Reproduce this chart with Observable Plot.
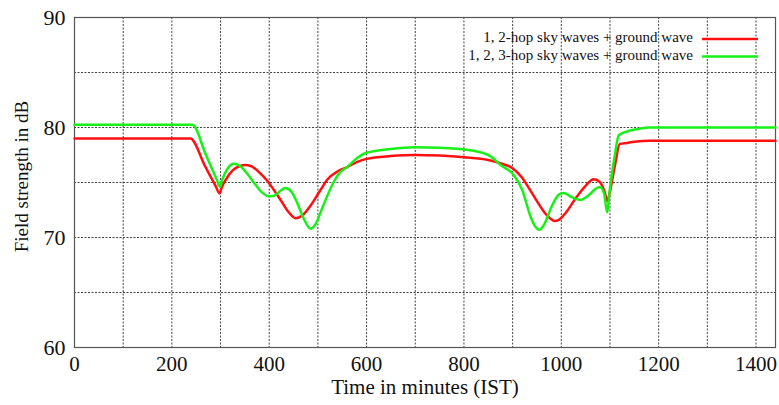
<!DOCTYPE html>
<html>
<head>
<meta charset="utf-8">
<script src="https://cdn.jsdelivr.net/npm/d3@7"></script>
<script src="https://cdn.jsdelivr.net/npm/@observablehq/plot@0.6"></script>
<style>
  html, body { margin: 0; padding: 0; background: #fff; }
  #wrap { position: relative; width: 779px; height: 405px; }
  #legend { position: absolute; left: 0; top: 0; pointer-events: none; }
</style>
</head>
<body>
<div id="wrap"></div>
<script>
// ---- data ----
const seriesNames = ["1, 2-hop sky waves + ground wave", "1, 2, 3-hop sky waves + ground wave"];
const seriesColors = ["#ff1010", "#18f018"];

const redTime  = [0, 238, 268, 290, 298, 302, 310, 325, 340, 352, 365, 380, 395, 410, 425, 440, 454, 468, 485, 505, 520, 540, 560, 580, 600, 650, 700, 750, 800, 850, 878, 900, 920, 936, 950, 965, 978, 986, 995, 1010, 1030, 1050, 1066, 1078, 1088, 1095, 1100, 1110, 1120, 1135, 1150, 1180, 1200, 1440];
const redValue = [79.0, 79.0, 76.5, 74.67, 74.0, 74.5, 75.2, 76.1, 76.5, 76.6, 76.45, 75.9, 75.2, 74.3, 73.3, 72.3, 71.75, 72.0, 72.9, 74.3, 75.3, 76.0, 76.4, 76.85, 77.15, 77.4, 77.5, 77.45, 77.3, 77.05, 76.7, 76.3, 75.4, 74.3, 73.3, 72.3, 71.7, 71.5, 71.6, 72.3, 73.6, 74.7, 75.3, 75.1, 74.3, 73.3, 74.2, 76.5, 78.5, 78.6, 78.7, 78.8, 78.8, 78.8];

const greenTime  = [0, 242, 270, 292, 299, 303, 315, 327, 340, 355, 370, 385, 399, 410, 422, 433, 445, 458, 470, 485, 495, 510, 532, 545, 560, 580, 600, 650, 700, 750, 800, 850, 878, 900, 920, 936, 945, 955, 965, 980, 995, 1005, 1020, 1039, 1055, 1070, 1079, 1088, 1094, 1100, 1110, 1118, 1140, 1162, 1180, 1440];
const greenValue = [80.25, 80.25, 77.5, 75.3, 74.6, 75.2, 76.3, 76.7, 76.5, 75.8, 74.9, 74.1, 73.75, 73.8, 74.2, 74.5, 74.2, 73.1, 71.8, 70.8, 71.2, 72.8, 75.0, 75.9, 76.4, 77.2, 77.7, 78.05, 78.2, 78.15, 78.0, 77.5, 76.5, 75.8, 74.3, 72.0, 71.1, 70.7, 71.2, 72.8, 73.9, 74.05, 73.7, 73.4, 73.8, 74.4, 74.6, 74.0, 72.3, 74.5, 77.5, 79.3, 79.7, 79.9, 80.0, 80.0];

const xTicks = [0, 200, 400, 600, 800, 1000, 1200, 1400];
const yTicks = [60, 70, 80, 90];
const xGrid = [100, 200, 300, 400, 500, 600, 700, 800, 900, 1000, 1100, 1200, 1300, 1400];
const yGrid = [65, 70, 75, 80, 85];
const xLabel = "Time in minutes (IST)";
const yLabel = "Field strength in dB";

// ---- tables built from the arrays ----
const red = redTime.map((t, i) => ({t, v: redValue[i]}));
const green = greenTime.map((t, i) => ({t, v: greenValue[i]}));

const W = 779, H = 405;
const font = "'Liberation Serif', 'Times New Roman', serif";

const chart = Plot.plot({
  width: W,
  height: H,
  marginLeft: 74,
  marginRight: 4,
  marginTop: 17,
  marginBottom: 58,
  style: {fontFamily: font, fontSize: "20px", background: "#fff", color: "#111", overflow: "visible"},
  x: {domain: [0, 1440]},
  y: {domain: [60, 90]},
  marks: [
    Plot.ruleX(xGrid, {stroke: "#222", strokeWidth: 1, strokeDasharray: "2,1.5", strokeOpacity: 0.85}),
    Plot.ruleY(yGrid, {stroke: "#222", strokeWidth: 1, strokeDasharray: "2,1.5", strokeOpacity: 0.85}),
    Plot.frame({stroke: "#555", strokeWidth: 1.2}),
    Plot.axisX({ticks: xTicks, tickSize: 0, tickPadding: 9, fontSize: 21, tickFormat: d => String(d), label: null}),
    Plot.axisY({ticks: yTicks, tickSize: 0, tickPadding: 9, fontSize: 22, tickFormat: d => String(d), label: null}),
    Plot.text([xLabel], {frameAnchor: "bottom", dy: 40, fontSize: 21, textAnchor: "middle", lineAnchor: "middle"}),
    Plot.text([yLabel], {frameAnchor: "left", dx: -53, dy: -6, rotate: -90, fontSize: 19, textAnchor: "middle", lineAnchor: "middle"}),
    Plot.line(red, {x: "t", y: "v", stroke: seriesColors[0], strokeWidth: 2.5, curve: "monotone-x"}),
    Plot.line(green, {x: "t", y: "v", stroke: seriesColors[1], strokeWidth: 2.5, curve: "monotone-x"})
  ]
});

const wrap = document.getElementById("wrap");
wrap.appendChild(chart);

// legend overlay (top-right inside the frame)
const ns = "http://www.w3.org/2000/svg";
const leg = document.createElementNS(ns, "svg");
leg.setAttribute("id", "legend");
leg.setAttribute("width", W);
leg.setAttribute("height", H);
seriesNames.forEach((name, i) => {
  const y = 39 + i * 17.5;
  const t = document.createElementNS(ns, "text");
  t.setAttribute("x", 693);
  t.setAttribute("y", y);
  t.setAttribute("text-anchor", "end");
  t.setAttribute("dominant-baseline", "middle");
  t.setAttribute("font-family", font);
  t.setAttribute("font-size", "15");
  t.setAttribute("fill", "#111");
  t.textContent = name;
  leg.appendChild(t);
  const l = document.createElementNS(ns, "line");
  l.setAttribute("x1", 702);
  l.setAttribute("x2", 758);
  l.setAttribute("y1", y);
  l.setAttribute("y2", y);
  l.setAttribute("stroke", seriesColors[i]);
  l.setAttribute("stroke-width", 2.5);
  leg.appendChild(l);
});
wrap.appendChild(leg);
</script>
</body>
</html>
